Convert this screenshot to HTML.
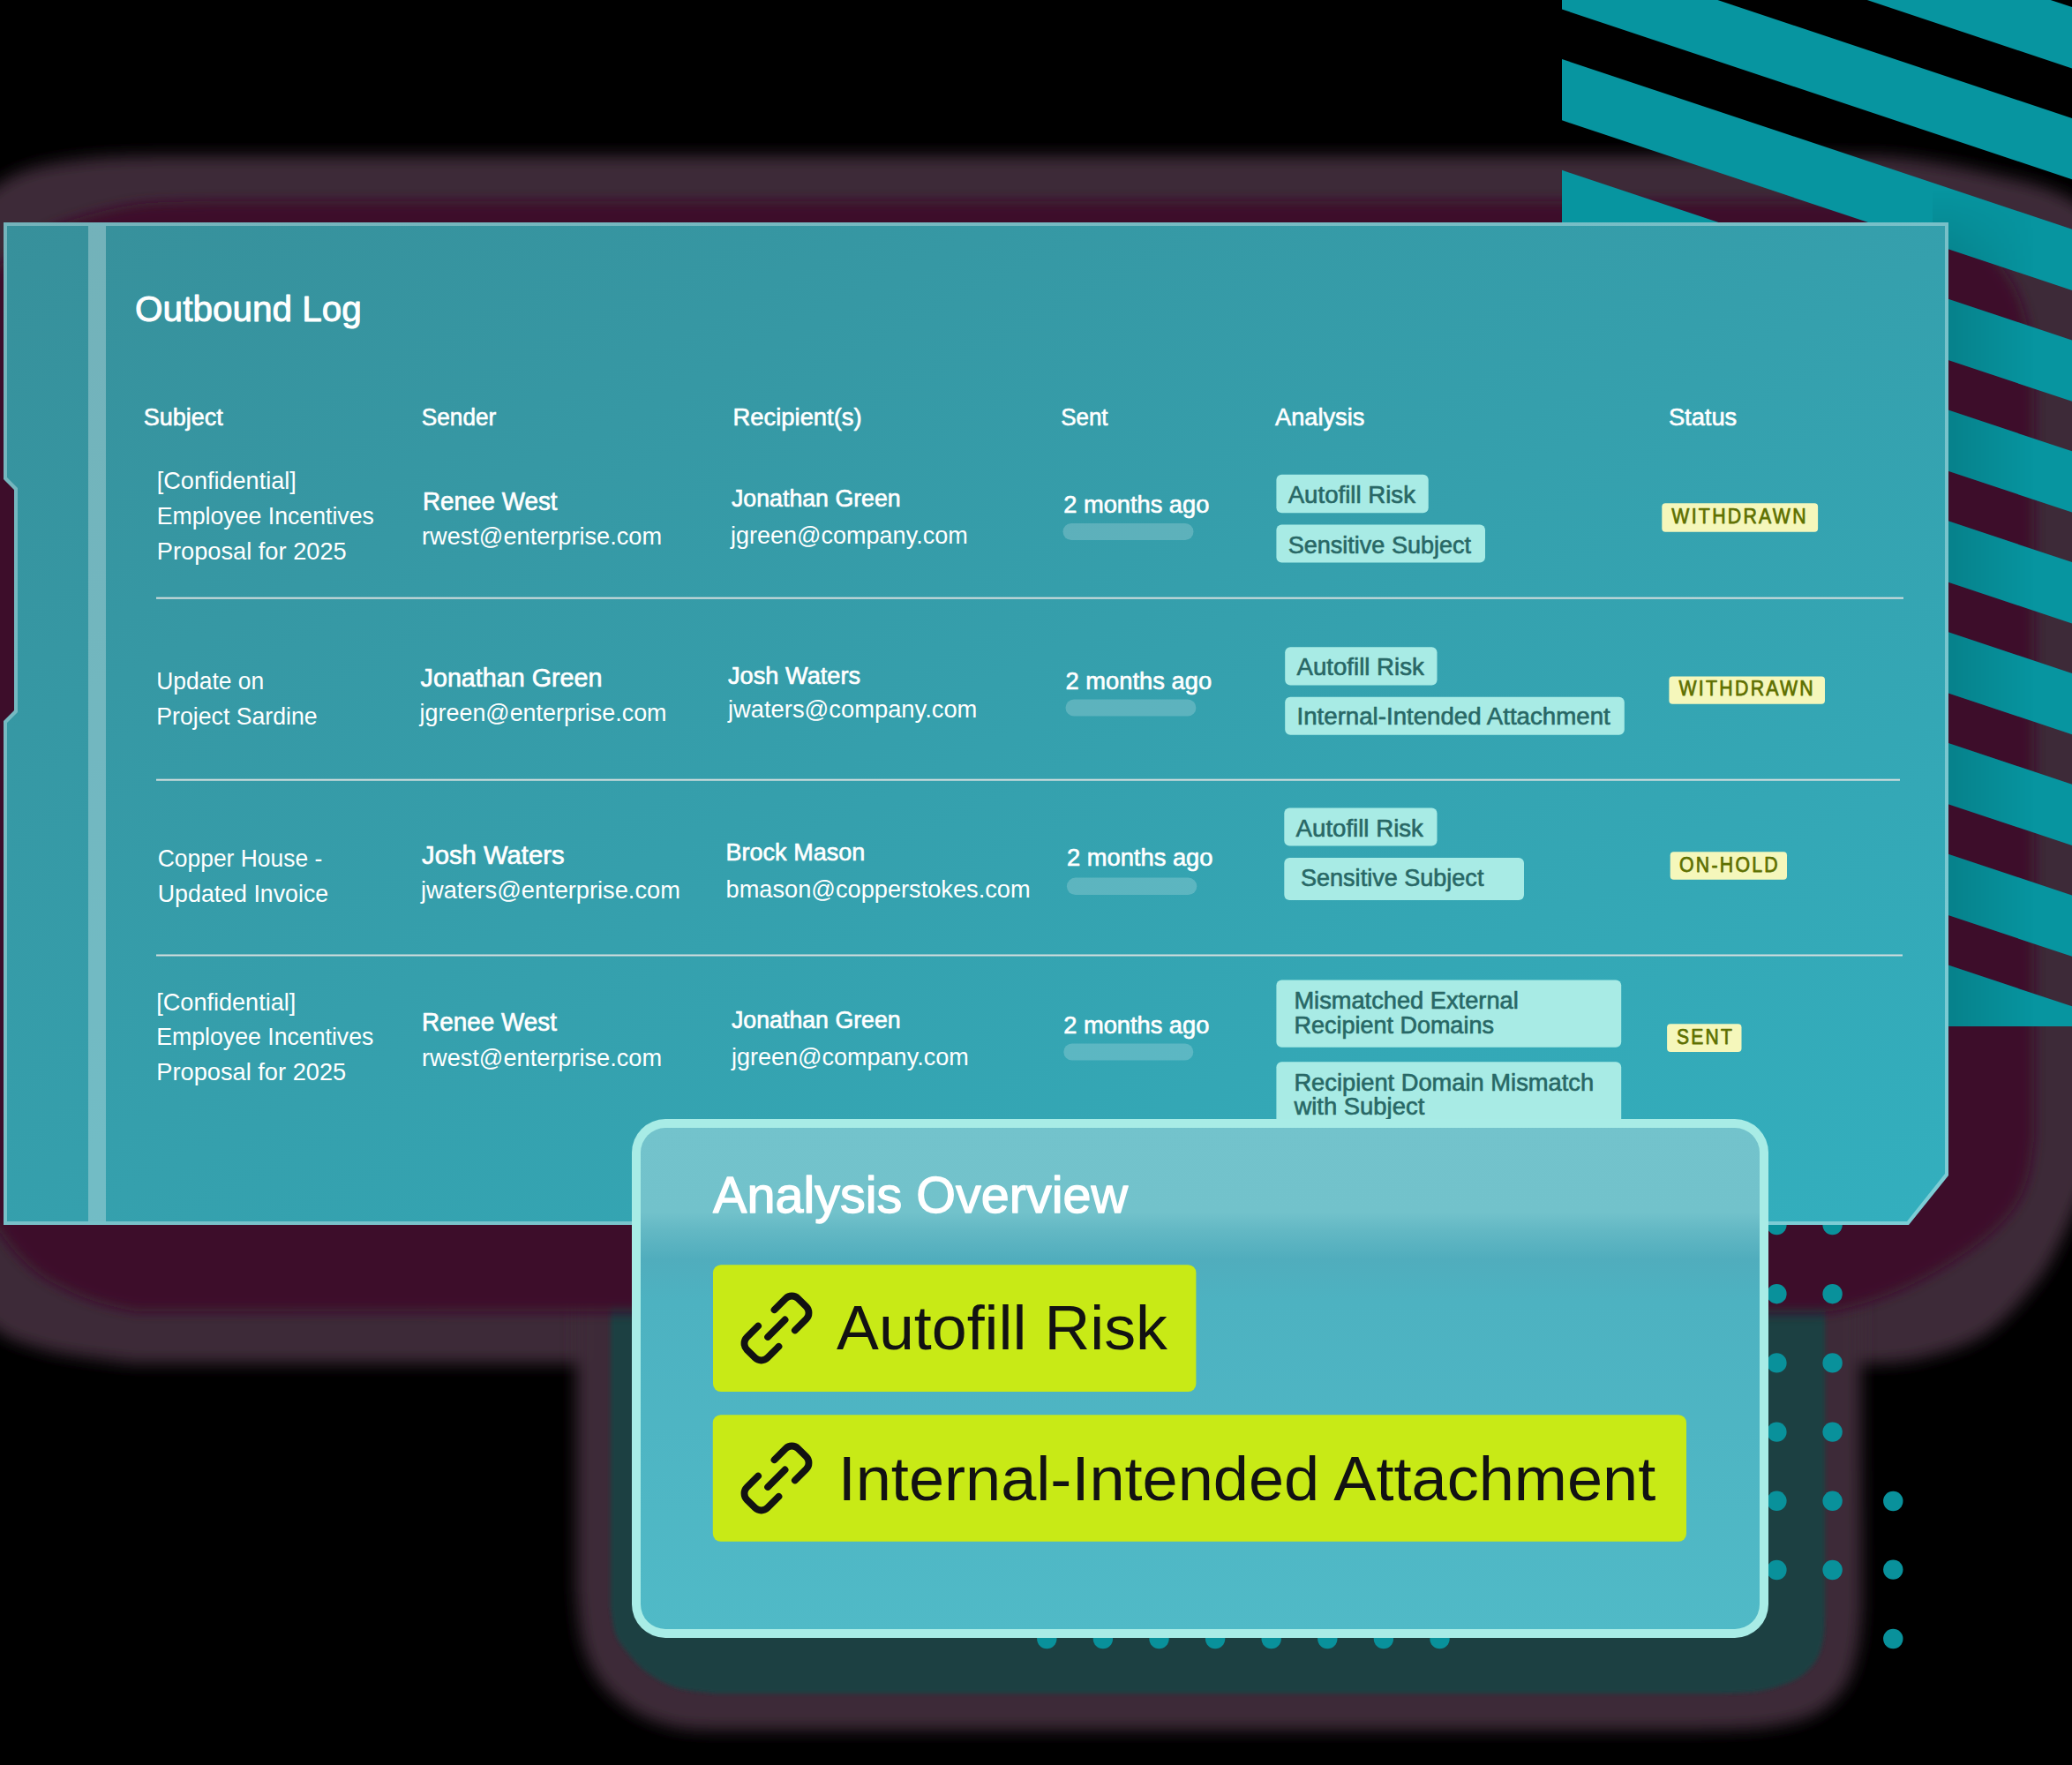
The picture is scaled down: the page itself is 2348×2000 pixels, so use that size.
<!DOCTYPE html><html><head><meta charset="utf-8"><style>
html,body{margin:0;padding:0;background:#000;}
body{width:2348px;height:2000px;overflow:hidden;}
svg{display:block;font-family:"Liberation Sans", sans-serif;}
</style></head><body>
<svg width="2348" height="2000" viewBox="0 0 2348 2000">
<defs>
<linearGradient id="gPanel" gradientUnits="userSpaceOnUse" x1="4" y1="252" x2="929" y2="2047"><stop offset="0" stop-color="#37909b"/><stop offset="1" stop-color="#33afbe"/></linearGradient>
<linearGradient id="gBorder" gradientUnits="userSpaceOnUse" x1="4" y1="252" x2="929" y2="2047"><stop offset="0" stop-color="#74b3bb"/><stop offset="1" stop-color="#7ccdd6"/></linearGradient>
<linearGradient id="gCard" gradientUnits="userSpaceOnUse" x1="0" y1="1268" x2="0" y2="1856"><stop offset="0" stop-color="#73c3cc"/><stop offset="0.18" stop-color="#72c2cb"/><stop offset="0.215" stop-color="#63b8c4"/><stop offset="0.27" stop-color="#50adbd"/><stop offset="0.35" stop-color="#4db2c1"/><stop offset="1" stop-color="#50bac7"/></linearGradient>
<clipPath id="cStripes"><rect x="1770" y="0" width="578" height="1163"/></clipPath>
<g id="link"><path d="M 13 -16.5 H 31 A 10 10 0 0 1 41 -6.5 V 6.5 A 10 10 0 0 1 31 16.5 H 13 M -14 0 H 13.5 M -13 16.5 H -31 A 10 10 0 0 1 -41 6.5 V -6.5 A 10 10 0 0 1 -31 -16.5 H -13" fill="none" stroke="#121212" stroke-width="7.8" stroke-linecap="round" stroke-linejoin="round"/></g>
</defs>
<filter id="fb9" x="-10%" y="-10%" width="120%" height="120%"><feGaussianBlur stdDeviation="9"/></filter>
<filter id="fb2" x="-10%" y="-10%" width="120%" height="120%"><feGaussianBlur stdDeviation="2"/></filter>
<path d="M -60.0 255.0 L -55.2 251.2 L -48.8 245.9 L -41.0 239.5 L -32.5 232.6 L -23.7 225.6 L -15.0 218.8 L -7.0 212.8 L 0.0 208.0 L 5.8 204.3 L 10.9 201.3 L 15.6 198.8 L 20.0 196.7 L 24.4 194.9 L 29.1 193.3 L 34.2 191.7 L 40.0 190.0 L 46.5 188.3 L 53.4 186.8 L 60.6 185.4 L 68.1 184.1 L 75.9 182.9 L 83.8 181.9 L 91.9 180.9 L 100.0 180.0 L 108.8 179.2 L 118.4 178.6 L 128.6 178.1 L 138.8 177.6 L 148.4 177.3 L 157.2 177.0 L 164.5 176.7 L 170.0 176.5 L 2080.0 176.5 L 2085.0 176.6 L 2091.6 176.6 L 2099.5 176.7 L 2108.3 176.8 L 2117.6 176.9 L 2126.9 177.1 L 2135.8 177.5 L 2144.0 178.0 L 2151.6 178.7 L 2159.1 179.4 L 2166.6 180.3 L 2173.9 181.3 L 2181.2 182.4 L 2188.5 183.6 L 2195.8 184.8 L 2203.0 186.0 L 2210.2 187.3 L 2217.3 188.6 L 2224.4 190.0 L 2231.4 191.5 L 2238.5 193.0 L 2245.6 194.6 L 2252.7 196.3 L 2260.0 198.0 L 2267.5 199.7 L 2275.1 201.5 L 2282.9 203.3 L 2290.8 205.1 L 2298.5 207.1 L 2306.0 209.2 L 2313.2 211.5 L 2320.0 214.0 L 2326.5 216.6 L 2332.9 219.2 L 2339.1 222.0 L 2345.0 224.9 L 2350.6 228.1 L 2355.9 231.6 L 2360.7 235.5 L 2365.0 240.0 L 2368.8 245.1 L 2372.2 250.8 L 2375.2 257.0 L 2377.8 263.5 L 2380.1 270.2 L 2382.0 276.9 L 2383.6 283.6 L 2385.0 290.0 L 2386.0 296.6 L 2386.4 303.7 L 2386.5 310.9 L 2386.2 318.1 L 2385.9 324.9 L 2385.5 331.0 L 2385.1 336.1 L 2385.0 340.0 L 2385.0 1290.0 L 2383.2 1294.2 L 2380.9 1299.9 L 2378.1 1306.6 L 2375.0 1314.0 L 2371.7 1321.9 L 2368.4 1329.9 L 2365.1 1337.7 L 2362.0 1345.0 L 2359.1 1352.0 L 2356.2 1359.0 L 2353.4 1366.1 L 2350.5 1373.1 L 2347.6 1380.2 L 2344.5 1387.2 L 2341.3 1394.1 L 2338.0 1401.0 L 2334.7 1407.7 L 2331.4 1414.3 L 2328.1 1420.8 L 2324.7 1427.3 L 2321.0 1433.8 L 2316.9 1440.4 L 2312.3 1447.1 L 2307.0 1454.0 L 2301.1 1461.3 L 2294.7 1469.1 L 2287.8 1477.0 L 2280.6 1485.1 L 2272.9 1492.9 L 2264.9 1500.3 L 2256.6 1507.1 L 2248.0 1513.0 L 2238.9 1518.1 L 2229.2 1522.7 L 2219.0 1526.8 L 2208.6 1530.4 L 2198.0 1533.6 L 2187.6 1536.4 L 2177.6 1538.9 L 2168.0 1541.0 L 2158.5 1542.7 L 2148.6 1543.8 L 2138.6 1544.4 L 2129.0 1544.8 L 2120.0 1544.8 L 2111.9 1544.8 L 2105.2 1544.9 L 2100.0 1545.0 L 150.0 1545.0 L 144.1 1544.2 L 136.1 1543.2 L 126.5 1541.9 L 115.9 1540.6 L 105.0 1539.1 L 94.5 1537.7 L 85.0 1536.3 L 77.0 1535.0 L 70.5 1533.9 L 65.0 1532.8 L 60.1 1531.9 L 55.7 1530.9 L 51.5 1529.8 L 47.4 1528.7 L 43.2 1527.5 L 38.6 1526.0 L 33.9 1524.6 L 29.5 1523.3 L 25.1 1522.0 L 20.7 1520.6 L 16.1 1518.8 L 11.2 1516.6 L 5.9 1513.7 L 0.0 1510.0 L -6.9 1505.0 L -14.9 1498.7 L -23.6 1491.5 L -32.4 1484.0 L -41.0 1476.6 L -48.7 1469.8 L -55.2 1464.1 L -60.0 1460.0 Z" fill="#3d2c39" filter="url(#fb9)"/>
<path d="M 653.0 1300.0 L 653.0 1800.0 L 653.5 1804.7 L 654.0 1811.1 L 654.5 1818.8 L 655.2 1827.2 L 656.1 1836.0 L 657.2 1844.6 L 658.5 1852.8 L 660.0 1860.0 L 661.7 1866.4 L 663.6 1872.5 L 665.7 1878.4 L 667.9 1884.1 L 670.5 1889.5 L 673.3 1894.8 L 676.5 1900.0 L 680.0 1905.0 L 684.0 1910.0 L 688.4 1914.9 L 693.1 1919.6 L 698.1 1924.2 L 703.4 1928.6 L 708.8 1932.7 L 714.4 1936.5 L 720.0 1940.0 L 725.7 1943.2 L 731.6 1946.1 L 737.6 1948.7 L 743.8 1951.0 L 750.1 1953.1 L 756.6 1955.0 L 763.2 1956.6 L 770.0 1958.0 L 777.4 1959.1 L 785.7 1959.8 L 794.4 1960.2 L 803.1 1960.4 L 811.5 1960.4 L 819.0 1960.4 L 825.3 1960.4 L 830.0 1960.5 L 1931.0 1960.5 L 1936.4 1960.3 L 1943.7 1960.1 L 1952.4 1959.9 L 1962.1 1959.6 L 1972.1 1959.2 L 1982.1 1958.7 L 1991.6 1958.0 L 2000.0 1957.0 L 2007.7 1955.9 L 2015.2 1954.6 L 2022.5 1953.3 L 2029.6 1951.7 L 2036.5 1950.0 L 2043.0 1947.9 L 2049.2 1945.6 L 2055.0 1943.0 L 2060.5 1940.0 L 2065.6 1936.7 L 2070.5 1933.1 L 2075.0 1929.2 L 2079.2 1925.2 L 2083.1 1920.9 L 2086.7 1916.5 L 2090.0 1912.0 L 2092.9 1907.3 L 2095.4 1902.5 L 2097.5 1897.4 L 2099.4 1892.2 L 2101.0 1886.8 L 2102.4 1881.3 L 2103.7 1875.7 L 2105.0 1870.0 L 2106.1 1863.8 L 2107.1 1856.9 L 2107.8 1849.6 L 2108.4 1842.4 L 2108.9 1835.4 L 2109.3 1829.2 L 2109.7 1823.9 L 2110.0 1820.0 L 2108.0 1300.0 Z" fill="#3d2c39" filter="url(#fb9)"/>
<path d="M 692.0 1300.0 L 692.0 1820.0 L 692.3 1822.4 L 692.7 1825.6 L 693.2 1829.5 L 693.8 1833.8 L 694.4 1838.2 L 695.1 1842.5 L 696.0 1846.5 L 697.0 1850.0 L 698.1 1852.9 L 699.2 1855.6 L 700.5 1858.0 L 701.8 1860.3 L 703.3 1862.6 L 705.0 1864.9 L 706.9 1867.3 L 709.0 1870.0 L 711.4 1872.9 L 713.9 1876.1 L 716.7 1879.3 L 719.6 1882.7 L 722.7 1886.0 L 726.0 1889.2 L 729.4 1892.2 L 733.0 1895.0 L 736.7 1897.6 L 740.6 1900.2 L 744.6 1902.6 L 748.8 1904.9 L 753.2 1907.1 L 757.6 1909.1 L 762.3 1910.9 L 767.0 1912.5 L 772.2 1913.9 L 778.1 1915.1 L 784.4 1916.0 L 790.6 1916.8 L 796.6 1917.5 L 802.1 1918.1 L 806.6 1918.6 L 810.0 1919.0 L 1950.0 1919.0 L 1953.5 1918.8 L 1958.2 1918.7 L 1963.8 1918.5 L 1970.0 1918.3 L 1976.5 1918.0 L 1983.0 1917.5 L 1989.3 1916.9 L 1995.0 1916.0 L 2000.4 1914.9 L 2005.8 1913.6 L 2011.2 1912.2 L 2016.4 1910.6 L 2021.5 1908.8 L 2026.4 1907.0 L 2030.9 1905.0 L 2035.0 1903.0 L 2038.7 1900.9 L 2042.1 1898.6 L 2045.1 1896.2 L 2047.9 1893.8 L 2050.5 1891.2 L 2052.8 1888.5 L 2055.0 1885.8 L 2057.0 1883.0 L 2058.8 1880.1 L 2060.3 1877.2 L 2061.6 1874.1 L 2062.8 1871.0 L 2063.7 1867.8 L 2064.5 1864.6 L 2065.3 1861.3 L 2066.0 1858.0 L 2066.6 1854.5 L 2067.0 1850.6 L 2067.4 1846.5 L 2067.6 1842.4 L 2067.7 1838.6 L 2067.8 1835.1 L 2067.9 1832.2 L 2068.0 1830.0 L 2068.0 1300.0 Z" fill="#1b4142" filter="url(#fb2)"/>
<filter id="fb7" x="-10%" y="-10%" width="120%" height="120%"><feGaussianBlur stdDeviation="7"/></filter>
<path d="M -60.0 330.0 L -55.2 327.7 L -48.8 324.7 L -41.0 321.0 L -32.5 317.0 L -23.7 312.7 L -15.0 308.3 L -7.0 304.1 L 0.0 300.0 L 5.9 296.0 L 11.3 291.9 L 16.2 287.6 L 20.9 283.4 L 25.4 279.2 L 30.0 275.2 L 34.8 271.4 L 40.0 268.0 L 45.3 264.9 L 50.4 262.1 L 55.6 259.5 L 60.9 257.1 L 66.4 254.8 L 72.4 252.5 L 78.9 250.3 L 86.0 248.0 L 93.8 245.6 L 102.2 243.2 L 111.0 240.8 L 120.2 238.4 L 129.8 236.2 L 139.7 234.2 L 149.8 232.4 L 160.0 231.0 L 171.1 229.9 L 183.5 229.2 L 196.5 228.7 L 209.6 228.4 L 222.1 228.3 L 233.5 228.2 L 242.9 228.1 L 250.0 228.0 L 2123.0 228.0 L 2130.0 229.4 L 2139.7 231.2 L 2151.2 233.4 L 2163.9 235.8 L 2176.8 238.5 L 2189.4 241.5 L 2200.7 244.6 L 2210.0 248.0 L 2217.5 251.6 L 2223.9 255.5 L 2229.5 259.6 L 2234.4 263.9 L 2239.0 268.5 L 2243.3 273.2 L 2247.5 278.0 L 2252.0 283.0 L 2256.6 288.1 L 2261.1 293.4 L 2265.4 298.8 L 2269.6 304.4 L 2273.6 310.2 L 2277.4 316.0 L 2280.8 322.0 L 2284.0 328.0 L 2286.8 334.2 L 2289.4 340.8 L 2291.7 347.5 L 2293.7 354.3 L 2295.5 361.1 L 2297.1 367.7 L 2298.6 374.0 L 2300.0 380.0 L 2301.2 385.8 L 2302.1 391.8 L 2302.9 397.6 L 2303.5 403.2 L 2304.0 408.5 L 2304.4 413.1 L 2304.7 417.0 L 2305.0 420.0 L 2305.0 1290.0 L 2304.4 1293.9 L 2303.7 1299.2 L 2302.9 1305.6 L 2301.9 1312.6 L 2300.7 1319.9 L 2299.4 1327.1 L 2297.8 1333.9 L 2296.0 1340.0 L 2294.0 1345.4 L 2292.0 1350.5 L 2289.8 1355.4 L 2287.3 1360.1 L 2284.6 1364.8 L 2281.5 1369.4 L 2278.0 1374.2 L 2274.0 1379.0 L 2269.6 1384.0 L 2264.7 1388.9 L 2259.5 1393.9 L 2253.9 1398.9 L 2248.0 1404.0 L 2241.7 1409.0 L 2235.0 1414.0 L 2228.0 1419.0 L 2220.5 1424.1 L 2212.5 1429.4 L 2204.0 1434.7 L 2195.2 1439.9 L 2186.3 1445.1 L 2177.1 1450.1 L 2168.0 1454.7 L 2159.0 1459.0 L 2149.9 1463.0 L 2140.4 1466.8 L 2130.8 1470.4 L 2121.1 1473.8 L 2111.6 1476.9 L 2102.3 1479.6 L 2093.4 1482.0 L 2085.0 1484.0 L 2076.8 1485.4 L 2068.6 1486.4 L 2060.6 1486.9 L 2052.9 1487.1 L 2045.8 1487.1 L 2039.4 1487.0 L 2034.1 1486.9 L 2030.0 1487.0 L 154.0 1486.0 L 151.1 1485.3 L 147.2 1484.5 L 142.6 1483.5 L 137.4 1482.4 L 132.0 1481.2 L 126.5 1479.9 L 121.1 1478.5 L 116.0 1477.0 L 111.2 1475.5 L 106.3 1473.9 L 101.4 1472.2 L 96.5 1470.4 L 91.6 1468.5 L 86.7 1466.5 L 81.9 1464.3 L 77.0 1462.0 L 72.2 1459.6 L 67.4 1457.3 L 62.6 1454.8 L 57.8 1452.2 L 53.0 1449.4 L 48.2 1446.3 L 43.4 1442.9 L 38.6 1439.0 L 33.9 1434.9 L 29.5 1430.9 L 25.1 1426.7 L 20.7 1422.1 L 16.1 1416.9 L 11.2 1410.9 L 5.9 1404.0 L 0.0 1396.0 L -6.9 1385.9 L -14.9 1373.5 L -23.6 1359.7 L -32.4 1345.3 L -41.0 1331.3 L -48.7 1318.5 L -55.2 1307.8 L -60.0 1300.0 Z" fill="#3d0f2c" filter="url(#fb7)"/>
<linearGradient id="gShadeH" gradientUnits="userSpaceOnUse" x1="2208" y1="0" x2="2305" y2="0"><stop offset="0" stop-color="#000" stop-opacity="0.13"/><stop offset="1" stop-color="#000" stop-opacity="0"/></linearGradient>
<linearGradient id="gShadeV" gradientUnits="userSpaceOnUse" x1="0" y1="215" x2="0" y2="300"><stop offset="0" stop-color="#fff" stop-opacity="0"/><stop offset="1" stop-color="#fff" stop-opacity="1"/></linearGradient>
<mask id="mShade" maskUnits="userSpaceOnUse" x="1770" y="0" width="578" height="1163"><rect x="1770" y="0" width="578" height="1163" fill="url(#gShadeV)"/></mask>
<clipPath id="cStripePolys"><polygon points="1770,-184.6 2348,8.1 2348,77.4 1770,-115.3"/><polygon points="1770,-58.8 2348,133.9 2348,203.2 1770,10.5"/><polygon points="1770,67.0 2348,259.7 2348,329.0 1770,136.3"/><polygon points="1770,192.8 2348,385.5 2348,454.8 1770,262.1"/><polygon points="1770,318.6 2348,511.3 2348,580.6 1770,387.9"/><polygon points="1770,444.4 2348,637.1 2348,706.4 1770,513.7"/><polygon points="1770,570.2 2348,762.9 2348,832.2 1770,639.5"/><polygon points="1770,696.0 2348,888.7 2348,958.0 1770,765.3"/><polygon points="1770,821.8 2348,1014.5 2348,1083.8 1770,891.1"/><polygon points="1770,947.6 2348,1140.3 2348,1209.6 1770,1016.9"/><polygon points="1770,1073.4 2348,1266.1 2348,1335.4 1770,1142.7"/><polygon points="1770,1199.2 2348,1391.9 2348,1461.2 1770,1268.5"/><polygon points="1770,1325.0 2348,1517.7 2348,1587.0 1770,1394.3"/><polygon points="1770,1450.8 2348,1643.5 2348,1712.8 1770,1520.1"/></clipPath>
<g clip-path="url(#cStripes)" fill="#0795a0"><polygon points="1770,-184.6 2348,8.1 2348,77.4 1770,-115.3"/><polygon points="1770,-58.8 2348,133.9 2348,203.2 1770,10.5"/><polygon points="1770,67.0 2348,259.7 2348,329.0 1770,136.3"/><polygon points="1770,192.8 2348,385.5 2348,454.8 1770,262.1"/><polygon points="1770,318.6 2348,511.3 2348,580.6 1770,387.9"/><polygon points="1770,444.4 2348,637.1 2348,706.4 1770,513.7"/><polygon points="1770,570.2 2348,762.9 2348,832.2 1770,639.5"/><polygon points="1770,696.0 2348,888.7 2348,958.0 1770,765.3"/><polygon points="1770,821.8 2348,1014.5 2348,1083.8 1770,891.1"/><polygon points="1770,947.6 2348,1140.3 2348,1209.6 1770,1016.9"/><polygon points="1770,1073.4 2348,1266.1 2348,1335.4 1770,1142.7"/><polygon points="1770,1199.2 2348,1391.9 2348,1461.2 1770,1268.5"/><polygon points="1770,1325.0 2348,1517.7 2348,1587.0 1770,1394.3"/><polygon points="1770,1450.8 2348,1643.5 2348,1712.8 1770,1520.1"/></g>
<g clip-path="url(#cStripes)"><g clip-path="url(#cStripePolys)"><rect x="2190" y="200" width="120" height="963" fill="url(#gShadeH)" mask="url(#mShade)"/></g></g>
<g fill="#09919b">
<circle cx="1186.3" cy="1857.0" r="11.2"/>
<circle cx="1249.9" cy="1857.0" r="11.2"/>
<circle cx="1313.5" cy="1857.0" r="11.2"/>
<circle cx="1377.1" cy="1857.0" r="11.2"/>
<circle cx="1440.7" cy="1857.0" r="11.2"/>
<circle cx="1504.3" cy="1857.0" r="11.2"/>
<circle cx="1567.9" cy="1857.0" r="11.2"/>
<circle cx="1631.5" cy="1857.0" r="11.2"/>
<circle cx="2013.4" cy="1388.0" r="11.2"/>
<circle cx="2076.6" cy="1388.0" r="11.2"/>
<circle cx="2013.4" cy="1466.2" r="11.2"/>
<circle cx="2076.6" cy="1466.2" r="11.2"/>
<circle cx="2013.4" cy="1544.4" r="11.2"/>
<circle cx="2076.6" cy="1544.4" r="11.2"/>
<circle cx="2013.4" cy="1622.6" r="11.2"/>
<circle cx="2076.6" cy="1622.6" r="11.2"/>
<circle cx="2013.4" cy="1700.8" r="11.2"/>
<circle cx="2076.6" cy="1700.8" r="11.2"/>
<circle cx="2013.4" cy="1779.0" r="11.2"/>
<circle cx="2076.6" cy="1779.0" r="11.2"/>
<circle cx="2145.3" cy="1701.0" r="11.2"/>
<circle cx="2145.3" cy="1778.6" r="11.2"/>
<circle cx="2145.3" cy="1857.0" r="11.2"/>
</g>
<polygon points="4,252 2208,252 2208,1332 2163,1388 4,1388 4,817 16,805 16,555 4,543" fill="url(#gBorder)"/>
<polygon points="8,256 2204,256 2204,1330 2161,1384 8,1384 8,819 20,807 20,553 8,541" fill="url(#gPanel)"/>
<rect x="100" y="256" width="20" height="1128" fill="#ffffff" fill-opacity="0.30"/>
<text x="153.1" y="364.1" font-size="41" font-weight="normal" fill="#fff" textLength="256.8" lengthAdjust="spacingAndGlyphs" stroke="#fff" stroke-width="0.94" stroke-linejoin="round">Outbound Log</text>
<text x="162.8" y="482.1" font-size="27" font-weight="normal" fill="#fff" textLength="90" lengthAdjust="spacingAndGlyphs" stroke="#fff" stroke-width="0.62" stroke-linejoin="round">Subject</text>
<text x="477.8" y="482.1" font-size="27" font-weight="normal" fill="#fff" textLength="84.5" lengthAdjust="spacingAndGlyphs" stroke="#fff" stroke-width="0.62" stroke-linejoin="round">Sender</text>
<text x="830.6" y="482.1" font-size="27" font-weight="normal" fill="#fff" textLength="146" lengthAdjust="spacingAndGlyphs" stroke="#fff" stroke-width="0.62" stroke-linejoin="round">Recipient(s)</text>
<text x="1202.2" y="482.1" font-size="27" font-weight="normal" fill="#fff" textLength="53.3" lengthAdjust="spacingAndGlyphs" stroke="#fff" stroke-width="0.62" stroke-linejoin="round">Sent</text>
<text x="1445.1" y="482.1" font-size="27" font-weight="normal" fill="#fff" textLength="101.2" lengthAdjust="spacingAndGlyphs" stroke="#fff" stroke-width="0.62" stroke-linejoin="round">Analysis</text>
<text x="1890.9" y="482.1" font-size="27" font-weight="normal" fill="#fff" textLength="77.3" lengthAdjust="spacingAndGlyphs" stroke="#fff" stroke-width="0.62" stroke-linejoin="round">Status</text>
<text x="177.8" y="554.2" font-size="27.5" font-weight="normal" fill="#fff" textLength="158" lengthAdjust="spacingAndGlyphs">[Confidential]</text>
<text x="177.8" y="593.7" font-size="27.5" font-weight="normal" fill="#fff" textLength="246" lengthAdjust="spacingAndGlyphs">Employee Incentives</text>
<text x="177.8" y="633.6" font-size="27.5" font-weight="normal" fill="#fff" textLength="214.9" lengthAdjust="spacingAndGlyphs">Proposal for 2025</text>
<text x="478.9" y="577.8" font-size="29" font-weight="normal" fill="#fff" textLength="152.7" lengthAdjust="spacingAndGlyphs" stroke="#fff" stroke-width="0.67" stroke-linejoin="round">Renee West</text>
<text x="478.0" y="616.7" font-size="27.5" font-weight="normal" fill="#fff" textLength="272" lengthAdjust="spacingAndGlyphs">rwest@enterprise.com</text>
<text x="829.0" y="574.2" font-size="27" font-weight="normal" fill="#fff" textLength="191.7" lengthAdjust="spacingAndGlyphs" stroke="#fff" stroke-width="0.62" stroke-linejoin="round">Jonathan Green</text>
<text x="828.0" y="616.4" font-size="27.5" font-weight="normal" fill="#fff" textLength="268.7" lengthAdjust="spacingAndGlyphs">jgreen@company.com</text>
<text x="1205.3" y="581.0" font-size="27" font-weight="normal" fill="#fff" textLength="165" lengthAdjust="spacingAndGlyphs" stroke="#fff" stroke-width="0.62" stroke-linejoin="round">2 months ago</text>
<rect x="1204.5" y="593" width="148.0" height="19.0" rx="9.5" fill="#ffffff" fill-opacity="0.2"/>
<rect x="1446.4" y="537.7" width="172.3" height="43.5" rx="6" fill="#a8ebe5"/>
<text x="1459.7" y="569.7" font-size="27" font-weight="normal" fill="#286866" textLength="144.3" lengthAdjust="spacingAndGlyphs" stroke="#286866" stroke-width="0.62" stroke-linejoin="round">Autofill Risk</text>
<rect x="1446.4" y="594.5" width="236.6" height="43.1" rx="6" fill="#a8ebe5"/>
<text x="1459.7" y="626.5" font-size="27" font-weight="normal" fill="#286866" textLength="207.4" lengthAdjust="spacingAndGlyphs" stroke="#286866" stroke-width="0.62" stroke-linejoin="round">Sensitive Subject</text>
<rect x="1883.3" y="570.3" width="176.8" height="32.5" rx="4" fill="#f5f7bb"/>
<text x="1894.3" y="592.9" font-size="23.3" font-weight="normal" fill="#5e7000" textLength="154.5" lengthAdjust="spacingAndGlyphs" letter-spacing="2.5" stroke="#5e7000" stroke-width="0.75" stroke-linejoin="round">WITHDRAWN</text>
<rect x="177" y="676.7" width="1980" height="2" fill="#d3dede"/>
<text x="177.3" y="781.0" font-size="27.5" font-weight="normal" fill="#fff" textLength="121.8" lengthAdjust="spacingAndGlyphs">Update on</text>
<text x="177.3" y="820.8" font-size="27.5" font-weight="normal" fill="#fff" textLength="182.4" lengthAdjust="spacingAndGlyphs">Project Sardine</text>
<text x="476.6" y="778.0" font-size="29" font-weight="normal" fill="#fff" textLength="205.8" lengthAdjust="spacingAndGlyphs" stroke="#fff" stroke-width="0.67" stroke-linejoin="round">Jonathan Green</text>
<text x="475.6" y="817.3" font-size="27.5" font-weight="normal" fill="#fff" textLength="279.9" lengthAdjust="spacingAndGlyphs">jgreen@enterprise.com</text>
<text x="825.0" y="774.6" font-size="27" font-weight="normal" fill="#fff" textLength="150.1" lengthAdjust="spacingAndGlyphs" stroke="#fff" stroke-width="0.62" stroke-linejoin="round">Josh Waters</text>
<text x="825.0" y="813.3" font-size="27.5" font-weight="normal" fill="#fff" textLength="282.4" lengthAdjust="spacingAndGlyphs">jwaters@company.com</text>
<text x="1207.5" y="780.8" font-size="27" font-weight="normal" fill="#fff" textLength="165.6" lengthAdjust="spacingAndGlyphs" stroke="#fff" stroke-width="0.62" stroke-linejoin="round">2 months ago</text>
<rect x="1207.5" y="792.4" width="147.9" height="19.1" rx="9.6" fill="#ffffff" fill-opacity="0.2"/>
<rect x="1456.2" y="733.3" width="172.3" height="43.1" rx="6" fill="#a8ebe5"/>
<text x="1469.5" y="765.3" font-size="27" font-weight="normal" fill="#286866" textLength="144.3" lengthAdjust="spacingAndGlyphs" stroke="#286866" stroke-width="0.62" stroke-linejoin="round">Autofill Risk</text>
<rect x="1456.2" y="789.7" width="384.6" height="43.1" rx="6" fill="#a8ebe5"/>
<text x="1469.5" y="821.2" font-size="27" font-weight="normal" fill="#286866" textLength="355.2" lengthAdjust="spacingAndGlyphs" stroke="#286866" stroke-width="0.62" stroke-linejoin="round">Internal-Intended Attachment</text>
<rect x="1891.4" y="766.6" width="176.6" height="31.1" rx="4" fill="#f5f7bb"/>
<text x="1902.5" y="787.9" font-size="23.3" font-weight="normal" fill="#5e7000" textLength="154.5" lengthAdjust="spacingAndGlyphs" letter-spacing="2.5" stroke="#5e7000" stroke-width="0.75" stroke-linejoin="round">WITHDRAWN</text>
<rect x="177" y="882.7" width="1976" height="2" fill="#d3dede"/>
<text x="178.8" y="982.0" font-size="27.5" font-weight="normal" fill="#fff" textLength="186.4" lengthAdjust="spacingAndGlyphs">Copper House -</text>
<text x="178.8" y="1021.8" font-size="27.5" font-weight="normal" fill="#fff" textLength="193.4" lengthAdjust="spacingAndGlyphs">Updated Invoice</text>
<text x="478.0" y="978.5" font-size="29" font-weight="normal" fill="#fff" textLength="161.6" lengthAdjust="spacingAndGlyphs" stroke="#fff" stroke-width="0.67" stroke-linejoin="round">Josh Waters</text>
<text x="477.0" y="1017.8" font-size="27.5" font-weight="normal" fill="#fff" textLength="293.8" lengthAdjust="spacingAndGlyphs">jwaters@enterprise.com</text>
<text x="822.6" y="974.6" font-size="27" font-weight="normal" fill="#fff" textLength="157.6" lengthAdjust="spacingAndGlyphs" stroke="#fff" stroke-width="0.62" stroke-linejoin="round">Brock Mason</text>
<text x="822.6" y="1016.8" font-size="27.5" font-weight="normal" fill="#fff" textLength="345" lengthAdjust="spacingAndGlyphs">bmason@copperstokes.com</text>
<text x="1208.9" y="980.8" font-size="27" font-weight="normal" fill="#fff" textLength="165.6" lengthAdjust="spacingAndGlyphs" stroke="#fff" stroke-width="0.62" stroke-linejoin="round">2 months ago</text>
<rect x="1208.9" y="994.6" width="147.4" height="19.5" rx="9.8" fill="#ffffff" fill-opacity="0.2"/>
<rect x="1455.3" y="915.5" width="173.2" height="43.1" rx="6" fill="#a8ebe5"/>
<text x="1468.6" y="947.5" font-size="27" font-weight="normal" fill="#286866" textLength="144.3" lengthAdjust="spacingAndGlyphs" stroke="#286866" stroke-width="0.62" stroke-linejoin="round">Autofill Risk</text>
<rect x="1455.3" y="971.9" width="271.7" height="48.0" rx="6" fill="#a8ebe5"/>
<text x="1474.0" y="1004.4" font-size="27" font-weight="normal" fill="#286866" textLength="207.4" lengthAdjust="spacingAndGlyphs" stroke="#286866" stroke-width="0.62" stroke-linejoin="round">Sensitive Subject</text>
<rect x="1892.7" y="965.3" width="132.3" height="31.5" rx="4" fill="#f5f7bb"/>
<text x="1903" y="987.5" font-size="23.3" font-weight="normal" fill="#5e7000" textLength="114.0" lengthAdjust="spacingAndGlyphs" letter-spacing="2.5" stroke="#5e7000" stroke-width="0.75" stroke-linejoin="round">ON-HOLD</text>
<rect x="177" y="1081.5" width="1979" height="2" fill="#d3dede"/>
<text x="177.3" y="1144.7" font-size="27.5" font-weight="normal" fill="#fff" textLength="158" lengthAdjust="spacingAndGlyphs">[Confidential]</text>
<text x="177.3" y="1184.4" font-size="27.5" font-weight="normal" fill="#fff" textLength="246" lengthAdjust="spacingAndGlyphs">Employee Incentives</text>
<text x="177.3" y="1224.2" font-size="27.5" font-weight="normal" fill="#fff" textLength="214.9" lengthAdjust="spacingAndGlyphs">Proposal for 2025</text>
<text x="478.0" y="1168.0" font-size="29" font-weight="normal" fill="#fff" textLength="153.0" lengthAdjust="spacingAndGlyphs" stroke="#fff" stroke-width="0.67" stroke-linejoin="round">Renee West</text>
<text x="478.0" y="1207.8" font-size="27.5" font-weight="normal" fill="#fff" textLength="272" lengthAdjust="spacingAndGlyphs">rwest@enterprise.com</text>
<text x="829.0" y="1164.6" font-size="27" font-weight="normal" fill="#fff" textLength="191.7" lengthAdjust="spacingAndGlyphs" stroke="#fff" stroke-width="0.62" stroke-linejoin="round">Jonathan Green</text>
<text x="829.0" y="1207.3" font-size="27.5" font-weight="normal" fill="#fff" textLength="268.7" lengthAdjust="spacingAndGlyphs">jgreen@company.com</text>
<text x="1205.3" y="1170.8" font-size="27" font-weight="normal" fill="#fff" textLength="165" lengthAdjust="spacingAndGlyphs" stroke="#fff" stroke-width="0.62" stroke-linejoin="round">2 months ago</text>
<rect x="1205.3" y="1182.4" width="147.0" height="19.1" rx="9.5" fill="#ffffff" fill-opacity="0.2"/>
<rect x="1446.4" y="1110.4" width="390.8" height="76.4" rx="6" fill="#a8ebe5"/>
<text x="1466.4" y="1143.3" font-size="27" font-weight="normal" fill="#286866" textLength="254.4" lengthAdjust="spacingAndGlyphs" stroke="#286866" stroke-width="0.62" stroke-linejoin="round">Mismatched External</text>
<text x="1466.4" y="1171.3" font-size="27" font-weight="normal" fill="#286866" textLength="226.5" lengthAdjust="spacingAndGlyphs" stroke="#286866" stroke-width="0.62" stroke-linejoin="round">Recipient Domains</text>
<rect x="1446.4" y="1203.2" width="390.8" height="86.8" rx="6" fill="#a8ebe5"/>
<text x="1466.4" y="1235.6" font-size="27" font-weight="normal" fill="#286866" textLength="339.7" lengthAdjust="spacingAndGlyphs" stroke="#286866" stroke-width="0.62" stroke-linejoin="round">Recipient Domain Mismatch</text>
<text x="1466.4" y="1263.2" font-size="27" font-weight="normal" fill="#286866" textLength="147.9" lengthAdjust="spacingAndGlyphs" stroke="#286866" stroke-width="0.62" stroke-linejoin="round">with Subject</text>
<rect x="1889.1" y="1160.2" width="84.4" height="31.9" rx="4" fill="#f5f7bb"/>
<text x="1899.9" y="1182.6" font-size="23.3" font-weight="normal" fill="#5e7000" textLength="65.2" lengthAdjust="spacingAndGlyphs" letter-spacing="2.5" stroke="#5e7000" stroke-width="0.75" stroke-linejoin="round">SENT</text>
<rect x="716" y="1268" width="1288" height="588" rx="38" fill="#a8ece6"/>
<rect x="726" y="1278" width="1268" height="568" rx="28" fill="url(#gCard)"/>
<text x="808.1" y="1373.8" font-size="58" font-weight="normal" fill="#fff" textLength="470" lengthAdjust="spacingAndGlyphs" stroke="#fff" stroke-width="1.33" stroke-linejoin="round">Analysis Overview</text>
<rect x="808" y="1433.2" width="547.4" height="143.9" rx="9" fill="#c8ea16"/>
<use href="#link" transform="translate(880,1505) rotate(-45)"/>
<text x="948" y="1528.8" font-size="71" font-weight="normal" fill="#121212" textLength="375" lengthAdjust="spacingAndGlyphs">Autofill Risk</text>
<rect x="807.8" y="1603.2" width="1103.2" height="143.6" rx="9" fill="#c8ea16"/>
<use href="#link" transform="translate(880,1675) rotate(-45)"/>
<text x="949.7" y="1699.9" font-size="71" font-weight="normal" fill="#121212" textLength="926.6" lengthAdjust="spacingAndGlyphs">Internal-Intended Attachment</text>
</svg></body></html>
